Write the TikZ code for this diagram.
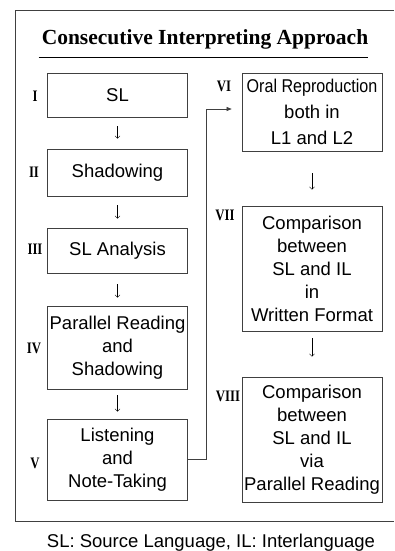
\documentclass[tikz,border=0pt]{standalone}
\usepackage{fontspec}
\setmainfont{Liberation Serif}
\setsansfont{Liberation Sans}
\newfontfamily\narrowsans[FakeStretch=0.87]{Liberation Sans}
\newfontfamily\numfont[FakeStretch=0.8]{Liberation Serif}
\usetikzlibrary{arrows.meta}

\begin{document}
\begin{tikzpicture}[x=1pt,y=-1pt,
  stage/.style={draw=black!75,line width=0.7pt,minimum width=140pt,inner sep=0pt,
    align=center,font=\sffamily\fontsize{18.5}{23}\selectfont},
  numeral/.style={font=\numfont\bfseries\fontsize{16}{16}\selectfont,inner sep=0pt},
  down/.style={-{Straight Barb[length=2.5pt,width=5pt]},line width=0.4pt},
  link/.style={-{Triangle[length=5pt,width=4pt]},line width=0.6pt,draw=black!75}]
\useasboundingbox (0,0) rectangle (394,551);
\draw[line width=0.7pt,black!75] (394,10) -| (15,521) -- (394,521);

\node[font=\bfseries\fontsize{21.5}{26}\selectfont,anchor=base,inner sep=0pt] (title) at (205,45) {Consecutive Interpreting Approach};
\draw[line width=0.7pt] ([xshift=-3pt,yshift=-12pt]title.base west) -- ([yshift=-12pt]title.base east);

\node[stage,minimum height=44pt] (sl) at (117.5,95) {SL};
\node[stage,minimum height=47pt] (shadow) at (117.5,172.5) {Shadowing};
\node[stage,minimum height=45pt] (analysis) at (117.5,250.5) {SL Analysis};
\node[stage,minimum height=83pt] (parallel) at (117.5,347.5) {Parallel Reading\\and\\Shadowing};
\node[stage,minimum height=81pt] (notes) at (117.5,459.5) {Listening\\and\\Note-Taking};
\node[stage,minimum height=78pt,font=\sffamily\fontsize{18.5}{26}\selectfont] (oral) at (312,112) {{\narrowsans Oral Reproduction}\\both in\\L1 and L2};
\node[stage,minimum height=125pt] (written) at (312,268.5) {Comparison\\between\\SL and IL\\in\\Written Format};
\node[stage,minimum height=125pt] (reading) at (312,439.5) {Comparison\\between\\SL and IL\\via\\Parallel Reading};

\node[numeral] (n1) at (35,96) {I};
\node[numeral] (n2) at (34,172) {II};
\node[numeral] (n3) at (35,249) {III};
\node[numeral] (n4) at (34,348) {IV};
\node[numeral] (n5) at (35,463) {V};
\node[numeral] (n6) at (224,86) {VI};
\node[numeral] (n7) at (225,215) {VII};
\node[numeral] (n8) at (228,396) {VIII};

\draw[down,shorten <=9pt,shorten >=10pt] (sl) -- (shadow);
\draw[down,shorten <=9pt,shorten >=9pt] (shadow) -- (analysis);
\draw[down,shorten <=11pt,shorten >=8pt] (analysis) -- (parallel);
\draw[down,shorten <=6pt,shorten >=7pt] (parallel) -- (notes);
\draw[down,shorten <=22pt,shorten >=16pt] (oral) -- (written);
\draw[down,shorten <=7pt,shorten >=20pt] (written) -- (reading);
\draw[link] (notes.east) -- ++(18,0) |- ([xshift=-10pt,yshift=3pt]oral.west);

\node[font=\sffamily\fontsize{18.5}{22}\selectfont,anchor=base,inner sep=0pt] (note) at (211,547) {SL: Source Language, IL: Interlanguage};
\end{tikzpicture}
\end{document}
